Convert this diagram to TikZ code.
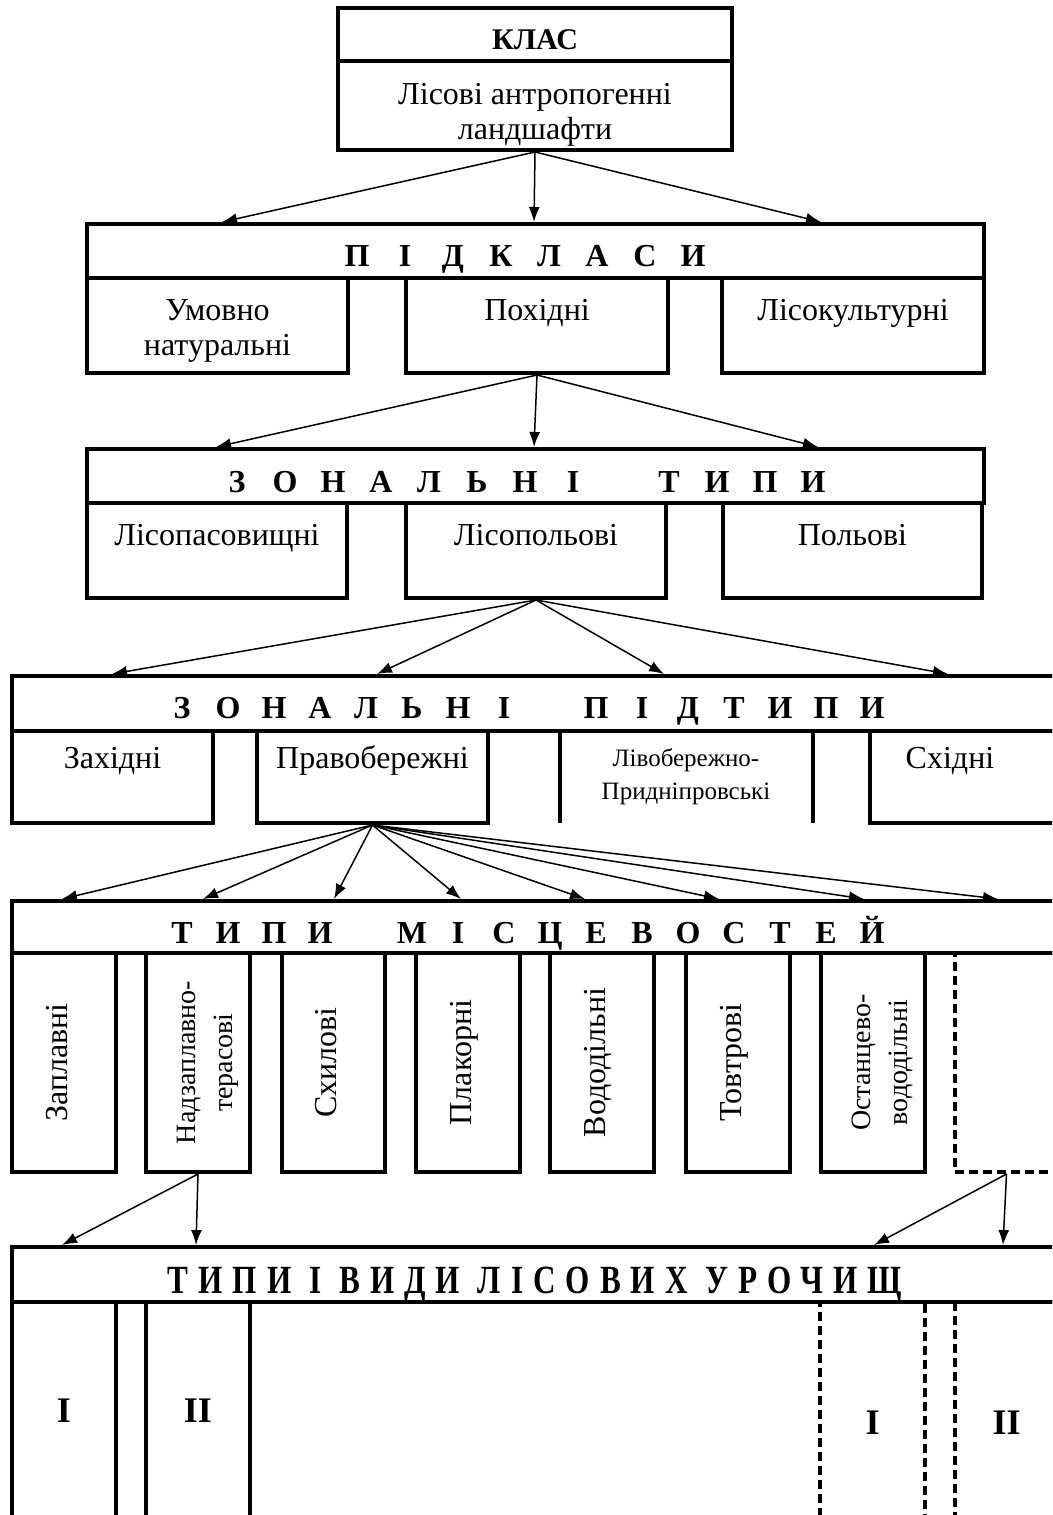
\documentclass[tikz,border=0pt]{standalone}
\usepackage{fontspec}
\setmainfont{Liberation Serif}
\usetikzlibrary{arrows.meta,positioning}

% letters set on a fixed pitch
\newcommand\spread[2]{\foreach \lt in {#2}{\makebox[#1]{\lt}}}

\begin{document}
\begin{tikzpicture}[x=1bp,y=-1bp]
\tikzset{
	cell/.style 2 args={draw, line width=4bp, inner sep=0pt, minimum width=#1, minimum height=#2},
	dashcell/.style={dash pattern=on 9bp off 5bp},
	hdrtxt/.style={inner sep=0pt, anchor=base, font=\fontsize{32bp}{36bp}\selectfont\bfseries},
	txt/.style={inner sep=0pt, align=center, font=\fontsize{32bp}{35bp}\selectfont},
	smalltxt/.style={txt, font=\fontsize{28bp}{37bp}\selectfont},
	numtxt/.style={font=\fontsize{36bp}{40bp}\selectfont\bfseries},
	link/.style={line width=1.5bp, -{Latex[length=15bp,width=11bp]}}
}

\useasboundingbox (0,0) rectangle (1052,1515);
\clip (0,0) rectangle (1052,1515);

% class
\node[cell={394bp}{53bp}] (klasH) at (535,34.5) {};
\node[cell={394bp}{89bp}] (klasB) at (535,105.5) {};
\node[hdrtxt, font=\fontsize{30bp}{34bp}\selectfont\bfseries] (klasT) at (535,50) {КЛАС};
\node[txt] (klasN) at (535,115) {Лісові антропогенні\\ландшафти};

% subclasses
\node[cell={897bp}{54bp}] (pidk) at (535.5,251) {};
\node[cell={261bp}{95bp}] (umov) at (217.5,325.5) {};
\node[cell={262bp}{95bp}] (pokh) at (537,325.5) {};
\node[cell={262bp}{95bp}] (lisk) at (853,325.5) {};
\node[hdrtxt] (pidkT) at (525,266) {\spread{48bp}{П,І,Д,К,Л,А,С,И}};
\node[txt] (umovT) at (217.5,331) {Умовно\\натуральні};
\node[txt, anchor=base] (pokhT) at (537,320) {Похідні};
\node[txt, anchor=base] (liskT) at (853,320) {Лісокультурні};

% zonal types
\node[cell={897bp}{54bp}] (zon) at (535.5,476) {};
\node[cell={260bp}{95bp}] (lpas) at (217,550.5) {};
\node[cell={260bp}{95bp}] (lpol) at (536,550.5) {};
\node[cell={259bp}{95bp}] (polv) at (852.5,550.5) {};
\node[hdrtxt] (zonT) at (525,492) {\spread{48bp}{З,О,Н,А,Л,Ь,Н,І,,Т,И,П,И}};
\node[txt, anchor=base] (lpasT) at (217,545) {Лісопасовищні};
\node[txt, anchor=base] (lpolT) at (536,545) {Лісопольові};
\node[txt, anchor=base] (polvT) at (852.5,545) {Польові};

% zonal subtypes
\node[cell={1046bp}{55bp}] (zpid) at (535,703.5) {};
\node[cell={201bp}{92bp}] (zakh) at (112.5,777) {};
\node[cell={231bp}{92bp}] (prav) at (372.5,777) {};
\node[inner sep=0pt, minimum width=253bp, minimum height=92bp] (livb) at (686.5,777) {};
\node[cell={188bp}{92bp}] (skhi) at (964,777) {};
\draw[line width=4bp] (livb.north west) -- (livb.south west);
\draw[line width=4bp] (livb.north east) -- (livb.south east);
\node[hdrtxt] (zpidT) at (527,718) {\spread{46bp}{З,О,Н,А,Л,Ь,Н,І,,П,І,Д,Т,И,П,И}};
\node[txt, anchor=base] (zakhT) at (112.5,768) {Західні};
\node[txt, anchor=base] (pravT) at (372.5,768) {Правобережні};
\node[txt, font=\fontsize{25bp}{33bp}\selectfont] (livbT) at (686,777) {Лівобережно-\\Придніпровські};
\node[txt, anchor=base] (skhiT) at (950,768) {Східні};

% types of localities
\node[cell={1046bp}{52bp}] (tmis) at (535,927) {};
\node[cell={104bp}{219bp}] (zapl) at (64,1062.5) {};
\node[cell={104bp}{219bp}] (nadz) at (198,1062.5) {};
\node[cell={103bp}{219bp}] (skhy) at (333.5,1062.5) {};
\node[cell={104bp}{219bp}] (plak) at (468,1062.5) {};
\node[cell={104bp}{219bp}] (vodo) at (602,1062.5) {};
\node[cell={104bp}{219bp}] (tovt) at (738,1062.5) {};
\node[cell={104bp}{219bp}] (osta) at (873,1062.5) {};
\node[cell={103bp}{219bp}, dashcell] (dots) at (1006.5,1062.5) {};
\node[hdrtxt] (tmisT) at (527,943) {\spread{46bp}{Т,И,П,И,,М,І,С,Ц,Е,В,О,С,Т,Е,Й}};
\node[txt, rotate=90, anchor=base] (zaplT) at ([xshift=3bp]zapl.center) {Заплавні};
\node[smalltxt, rotate=90] (nadzT) at ([xshift=10bp]nadz.center) {Надзаплавно-\\терасові};
\node[txt, rotate=90, anchor=base] (skhyT) at ([xshift=3bp]skhy.center) {Схилові};
\node[txt, rotate=90, anchor=base] (plakT) at ([xshift=3bp]plak.center) {Плакорні};
\node[txt, rotate=90, anchor=base] (vodoT) at ([xshift=3bp]vodo.center) {Вододільні};
\node[txt, rotate=90, anchor=base] (tovtT) at ([xshift=3bp]tovt.center) {Товтрові};
\node[smalltxt, rotate=90] (ostaT) at ([xshift=9bp]osta.center) {Останцево-\\вододільні};

% types and kinds of forest tracts
\node[cell={1046bp}{55bp}] (urch) at (535,1274.5) {};
\node[hdrtxt, font=\fontsize{40bp}{44bp}\selectfont\bfseries\addfontfeatures{FakeStretch=0.78,LetterSpace=25}] (urchT) at (535,1293) {ТИПИ І ВИДИ ЛІСОВИХ УРОЧИЩ};
\node[cell={104bp}{218bp}, numtxt] (col1) at (64,1411) {I};
\node[cell={104bp}{218bp}, numtxt] (col2) at (198,1411) {II};
\node[cell={105bp}{242bp}, dashcell, numtxt] (col3) at (872.5,1423) {I};
\node[cell={103bp}{242bp}, dashcell, numtxt] (col4) at (1006.5,1423) {II};

% links
\draw[link] (klasB.south) -- ([xshift=137bp]pidk.north west);
\draw[link] (klasB.south) -- ([xshift=449bp]pidk.north west);
\draw[link] (klasB.south) -- ([xshift=736bp]pidk.north west);

\draw[link] (pokh.south) -- ([xshift=131bp]zon.north west);
\draw[link] (pokh.south) -- ([xshift=449bp]zon.north west);
\draw[link] (pokh.south) -- ([xshift=733bp]zon.north west);

\foreach \dx in {102,367,654,938}
	\draw[link] (lpol.south) -- ([xshift=\dx bp]zpid.north west);

\foreach \dx in {52,193,324,451,575,709,854,988}
	\draw[link] (prav.south) -- ([xshift=\dx bp]tmis.north west);

\draw[link] (nadz.south) -- ([xshift=52bp]urch.north west);
\draw[link] (nadz.south) -- ([xshift=186bp]urch.north west);
\draw[link] (dots.south) -- ([xshift=864bp]urch.north west);
\draw[link] (dots.south) -- ([xshift=993bp]urch.north west);

\end{tikzpicture}
\end{document}
